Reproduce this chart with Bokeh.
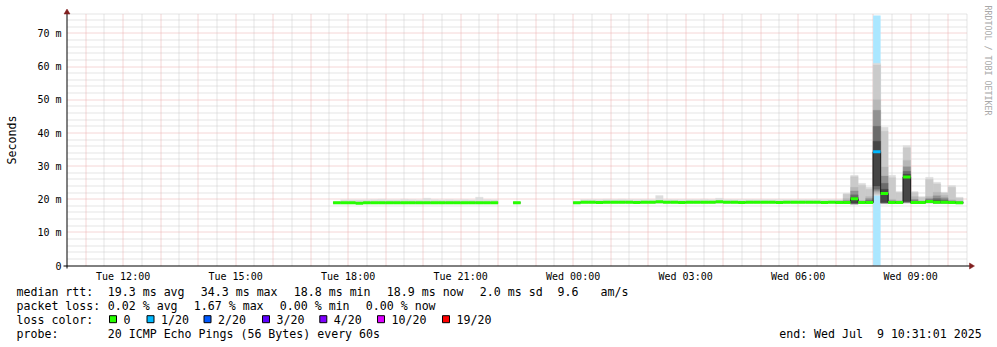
from math import pi, floor
from bokeh.plotting import figure
from bokeh.models import Range1d
from bokeh.core.properties import value
from bokeh.embed import file_html
from bokeh.resources import INLINE

# ------------------------------------------------------------------ data
STEP_MIN = 12                      # RRA resolution: 12 x 60 s
graph_start = "Tue 10:31:01"
graph_end = "Wed 10:31:01"
y_top = 76.0                       # ms, top of value axis

seg_starts = ["Tue 17:36", "Tue 22:24", "Wed 00:00"]

seg1_med = [18.9, 18.9, 18.9, 18.8, 18.9, 18.9, 18.9, 18.9, 18.9, 18.9, 18.9,
            18.9, 18.9, 18.9, 18.9, 18.9, 18.9, 18.9, 18.9, 18.9, 18.9, 18.9]
seg1_hi = [19.3, 19.8, 19.8, 19.8, 19.8, 19.9, 20.0, 19.8, 19.8, 20.0, 19.9,
           19.8, 20.3, 19.9, 19.8, 19.9, 19.8, 19.9, 19.8, 20.6, 19.9, 19.8]
seg1_lo = [18.6, 18.6, 18.6, 18.6, 18.6, 18.6, 18.6, 18.6, 18.6, 18.6, 18.6,
           18.6, 18.6, 18.6, 18.6, 18.6, 18.6, 18.6, 18.6, 18.6, 18.6, 18.6]

seg2_med = [18.9]
seg2_hi = [19.3]
seg2_lo = [18.6]

seg3_med = [18.9, 19.1, 19.1, 19.0, 19.1, 19.1, 19.1, 19.1, 19.0, 19.1,
            19.1, 19.2, 19.1, 19.1, 19.0, 19.1, 19.1, 19.1, 19.1, 19.2,
            19.1, 19.1, 19.0, 19.1, 19.1, 19.1, 19.1, 19.0, 19.1, 19.1,
            19.1, 19.1, 19.1, 19.0, 19.1,
            19.0, 19.0, 20.1, 19.0, 19.0, 34.3, 21.7, 19.0, 19.0, 26.7,
            19.0, 19.0, 19.3, 19.1, 19.1, 19.0, 18.9]
seg3_hi = [19.4, 19.9, 19.9, 19.9, 20.0, 19.9, 20.0, 19.9, 19.9, 19.9,
           19.9, 21.1, 19.9, 19.9, 19.9, 19.9, 19.9, 20.0, 19.9, 20.3,
           19.9, 19.9, 19.9, 19.9, 19.9, 19.9, 19.9, 19.9, 19.9, 19.9,
           19.9, 19.9, 19.9, 19.9, 19.9,
           19.8, 21.8, 27.2, 24.8, 23.6, 61.0, 41.7, 27.2, 22.3, 36.2,
           22.3, 20.8, 26.6, 25.1, 22.1, 24.1, 20.6]
seg3_lo = [18.7, 18.7, 18.7, 18.7, 18.7, 18.7, 18.7, 18.7, 18.7, 18.7,
           18.7, 18.7, 18.7, 18.7, 18.7, 18.7, 18.7, 18.7, 18.7, 18.7,
           18.7, 18.7, 18.7, 18.7, 18.7, 18.7, 18.7, 18.7, 18.7, 18.7,
           18.7, 18.7, 18.7, 18.7, 18.7,
           18.7, 18.7, 18.4, 18.7, 18.7, 21.1, 18.6, 18.7, 18.7, 18.8,
           18.7, 18.7, 18.8, 18.7, 18.7, 18.7, 18.6]

# inner smoke (sorted ping ranks) for the busy morning window
window_start = "Wed 07:00"
w_p19 = [19.7, 21.5, 26.8, 24.2, 23.0, 60.5, 40.5, 26.5, 22.0, 35.5, 22.0, 20.5, 26.0, 24.6, 21.9, 23.6, 20.3]
w_p18 = [19.4, 20.2, 23.6, 19.6, 20.8, 50.0, 29.7, 20.0, 19.6, 31.7, 20.8, 19.5, 20.8, 22.1, 21.2, 19.8, 19.4]
w_p16 = [19.2, 19.6, 22.5, 19.4, 20.2, 46.8, 27.0, 19.6, 19.4, 29.8, 20.0, 19.3, 20.2, 21.0, 20.4, 19.5, 19.2]
w_p14 = [19.1, 19.3, 21.3, 19.2, 19.6, 42.0, 24.8, 19.3, 19.2, 28.4, 19.5, 19.2, 19.8, 20.2, 19.8, 19.3, 19.1]
w_p12 = [19.0, 19.1, 20.6, 19.1, 19.3, 37.5, 23.0, 19.1, 19.1, 27.5, 19.2, 19.1, 19.5, 19.6, 19.4, 19.1, 19.0]
w_p9 = [18.9, 19.0, 18.8, 19.0, 19.0, 24.0, 19.0, 19.0, 19.0, 19.3, 19.0, 19.0, 19.2, 19.0, 19.0, 19.0, 18.9]
w_p7 = [18.8, 18.9, 18.7, 18.9, 18.9, 23.0, 18.9, 18.9, 18.9, 19.1, 18.9, 18.9, 19.1, 18.9, 18.9, 18.9, 18.8]
w_p5 = [18.8, 18.9, 18.6, 18.8, 18.8, 22.4, 18.8, 18.8, 18.8, 19.0, 18.8, 18.8, 19.0, 18.8, 18.8, 18.8, 18.7]
w_p3 = [18.7, 18.8, 18.5, 18.8, 18.8, 21.8, 18.7, 18.8, 18.8, 18.9, 18.8, 18.8, 18.9, 18.8, 18.8, 18.8, 18.7]
w_p2 = [18.7, 18.7, 18.45, 18.7, 18.7, 21.4, 18.6, 18.7, 18.7, 18.85, 18.7, 18.7, 18.85, 18.7, 18.7, 18.7, 18.65]

loss_bins = ["Wed 08:00"]
loss_pct = [1.67]

loss_labels = ["0", "1/20", "2/20", "3/20", "4/20", "10/20", "19/20"]
loss_levels = [0, 1, 2, 3, 4, 10, 19]
loss_colors = ["#26ff00", "#00b8ff", "#0059ff", "#5e00ff", "#7e00ff", "#dd00ff", "#ff0000"]
loss_back = ["#ffffff", "#abe7ff", "#aac8ff", "#cbaaff", "#d6aaff", "#f3aaff", "#ffaaaa"]

x_tick_times = ["Tue 12:00", "Tue 15:00", "Tue 18:00", "Tue 21:00",
                "Wed 00:00", "Wed 03:00", "Wed 06:00", "Wed 09:00"]
y_ticks = [0, 10, 20, 30, 40, 50, 60, 70]
y_tick_labels = ["0", "10 m", "20 m", "30 m", "40 m", "50 m", "60 m", "70 m"]
y_axis_title = "Seconds"

stat_rtt = ["19.3 ms avg", "34.3 ms max", "18.8 ms min", "18.9 ms now", "2.0 ms sd", "9.6", "am/s"]
stat_loss = ["0.02 % avg", "1.67 % max", "0.00 % min", "0.00 % now"]
probe_text = "20 ICMP Echo Pings (56 Bytes) every 60s"
end_text = "end: Wed Jul\u00a0 9 10:31:01 2025"
watermark = "RRDTOOL / TOBI OETIKER"


def to_min(s):
    day, hms = s.split()
    parts = [int(v) for v in hms.split(":")]
    while len(parts) < 3:
        parts.append(0)
    return (0 if day == "Tue" else 1440) + parts[0] * 60 + parts[1] + parts[2] / 60.0


def loss_class(pct):
    lost = pct / 100.0 * 20
    for k, lv in enumerate(loss_levels):
        if lost <= lv:
            return k
    return len(loss_levels) - 1


loss_map = {to_min(b): loss_class(v) for b, v in zip(loss_bins, loss_pct)}

L, R, MED, LO, HI, COL = [], [], [], [], [], []
steps = []
for s, meds, los, his in zip(seg_starts, [seg1_med, seg2_med, seg3_med],
                             [seg1_lo, seg2_lo, seg3_lo], [seg1_hi, seg2_hi, seg3_hi]):
    t0 = to_min(s)
    xs, ys = [], []
    for i, (m, lo, hi) in enumerate(zip(meds, los, his)):
        a = t0 + i * STEP_MIN
        L.append(a); R.append(a + STEP_MIN); MED.append(m); LO.append(lo); HI.append(hi)
        COL.append(loss_colors[loss_map.get(a, 0)])
        xs.append(a); ys.append(m)
    xs.append(t0 + len(meds) * STEP_MIN); ys.append(meds[-1])
    steps.append((xs, ys))

wt0 = to_min(window_start)
WL = [wt0 + i * STEP_MIN for i in range(len(w_p18))]
WR = [a + STEP_MIN for a in WL]

x0, x1 = to_min(graph_start), to_min(graph_end)

# ------------------------------------------------------------------ canvas geometry
W, H = 997, 347
FL, FR, FT, FB = 67, 967, 13, 265          # plot area in canvas pixels
TXT10 = 3.5                                 # baseline correction for 10px text
TXT12 = 4.3                                 # baseline correction for 11.6px text


def tx(px):        # canvas px -> time
    return x0 + (px - FL) * (x1 - x0) / (FR - FL)


def vy(py):        # canvas py -> ms
    return (FB - py) * y_top / (FB - FT)


def px_t(t):
    return FL + (t - x0) * (FR - FL) / (x1 - x0)


def py_v(v):
    return FB - v * (FB - FT) / y_top


MONO = "DejaVu Sans Mono"

p = figure(width=W, height=H, x_range=Range1d(tx(0), tx(W)), y_range=Range1d(vy(H), vy(0)),
           toolbar_location=None, output_backend="svg", min_border=0,
           x_axis_location=None, y_axis_location=None)
p.grid.visible = False
p.outline_line_color = None
p.background_fill_color = "white"
p.border_fill_color = "white"

# ---- grid (dotted, snapped to pixel centres like rrdtool)
hour_lines = [t for t in range(660, 2041, 60)]
half_lines = [t for t in range(690, 2071, 60)]
maj_y = [10, 20, 30, 40, 50, 60, 70]
min_y = [v for v in range(2, 77, 2) if v % 10]


def snap_x(t):
    return tx(floor(px_t(t)) + 0.5)


def snap_y(v):
    return vy(floor(py_v(v)) + 0.5)


gx_t, gx_b = vy(FB), vy(FT)
MINOR_C, MAJOR_C = "#cacaca", "#eaacac"
p.segment(x0=[snap_x(t) for t in half_lines], x1=[snap_x(t) for t in half_lines],
          y0=gx_t, y1=gx_b, line_color=MINOR_C, line_width=1, line_dash="1 1")
p.segment(x0=tx(FL), x1=tx(FR), y0=[snap_y(v) for v in min_y], y1=[snap_y(v) for v in min_y],
          line_color=MINOR_C, line_width=1, line_dash="1 1")
p.segment(x0=[snap_x(t) for t in hour_lines], x1=[snap_x(t) for t in hour_lines],
          y0=gx_t, y1=gx_b, line_color=MAJOR_C, line_width=1, line_dash="1 1")
p.segment(x0=tx(FL), x1=tx(FR), y0=[snap_y(v) for v in maj_y], y1=[snap_y(v) for v in maj_y],
          line_color=MAJOR_C, line_width=1, line_dash="1 1")

# ---- loss background bars
lb_l = list(loss_map.keys())
lb_c = [loss_back[k] for k in loss_map.values()]
p.quad(left=lb_l, right=[a + STEP_MIN for a in lb_l], bottom=0, top=75.4,
       fill_color=lb_c, line_color=None)

# ---- smoke (outer pair lightest, inner pairs darker, as in smokeping)
p.quad(left=L, right=R, bottom=LO, top=HI, fill_color="#dddddd", line_color="#dddddd", line_width=0.3)
for lo, hi, c in ((w_p2, w_p19, "#cacaca"), (w_p3, w_p18, "#b7b7b7"), (w_p5, w_p16, "#919191"),
                  (w_p7, w_p14, "#6b6b6b"), (w_p9, w_p12, "#454545")):
    p.quad(left=WL, right=WR, bottom=lo, top=hi, fill_color=c, line_color=c, line_width=0.3)

# ---- median
for xs, ys in steps:
    p.step(x=xs, y=ys, mode="after", line_color="#202020", line_width=1)
p.segment(x0=L, y0=MED, x1=R, y1=MED, line_color=COL, line_width=3)

# ---- axes + arrows
p.segment(x0=[tx(63), tx(66.5)], y0=[vy(265.5), vy(268)],
          x1=[tx(970), tx(66.5)], y1=[vy(265.5), vy(11)], line_color="black", line_width=1)
p.patches(xs=[[tx(63.5), tx(69.5), tx(66.5)], [tx(969), tx(969), tx(974)]],
          ys=[[vy(13.5), vy(13.5), vy(8.5)], [vy(262.5), vy(268.5), vy(265.5)]],
          fill_color="#801f1f", line_color="#801f1f", line_width=0.5)

# ---- tick labels
xt = [to_min(s) for s in x_tick_times]
p.text(x=xt, y=vy(279.3 - TXT10), text=x_tick_times, text_font=value(MONO), text_font_size="10px",
       text_align="center", text_baseline="alphabetic", text_color="black")
p.text(x=tx(61), y=[v - (3.7 - TXT10) * y_top / (FB - FT) for v in y_ticks], text=y_tick_labels,
       text_font=value(MONO), text_font_size="10px", text_align="right",
       text_baseline="alphabetic", text_color="black")
p.text(x=tx(11), y=vy(139.5), text=[y_axis_title], angle=pi / 2, text_font=value(MONO),
       text_font_size="11.6px", text_align="center", text_baseline="middle", text_color="black")
p.text(x=tx(987.5), y=vy(60), text=[watermark], angle=-pi / 2, text_font=value(MONO),
       text_font_size="8.3px", text_align="center", text_baseline="middle", text_color="#a8a8a8")

# ---- legend lines
items_x = ([16, 107.3, 200.3, 293.3, 386.3, 479.3, 557, 600],
           [16, 107.3, 193.3, 279.3, 365.3],
           [16],
           [16, 107.3, 778.7])
items_t = (["median rtt:"] + stat_rtt,
           ["packet loss:"] + stat_loss,
           ["loss color:"],
           ["probe:", probe_text, end_text])
base = [295.5, 309.5, 323.5, 337.5]
X, Y, T = [], [], []
for xs, ts, b in zip(items_x, items_t, base):
    X += [tx(v) for v in xs]; Y += [vy(b - TXT12)] * len(xs); T += ts
box_text_x = [123, 160.5, 217.5, 276, 333.3, 391, 456]
X += [tx(v) for v in box_text_x]; Y += [vy(323.5 - TXT12)] * len(box_text_x); T += loss_labels
p.text(x=X, y=Y, text=T, text_font=value(MONO), text_font_size="11.6px",
       text_baseline="alphabetic", text_align="left", text_color="black")
p.scatter(x=[tx(v - 10.5) for v in box_text_x], y=vy(318.7), marker="square", size=7,
          fill_color=loss_colors, line_color="black", line_width=1)

open("out.html", "w").write(file_html(p, INLINE))
